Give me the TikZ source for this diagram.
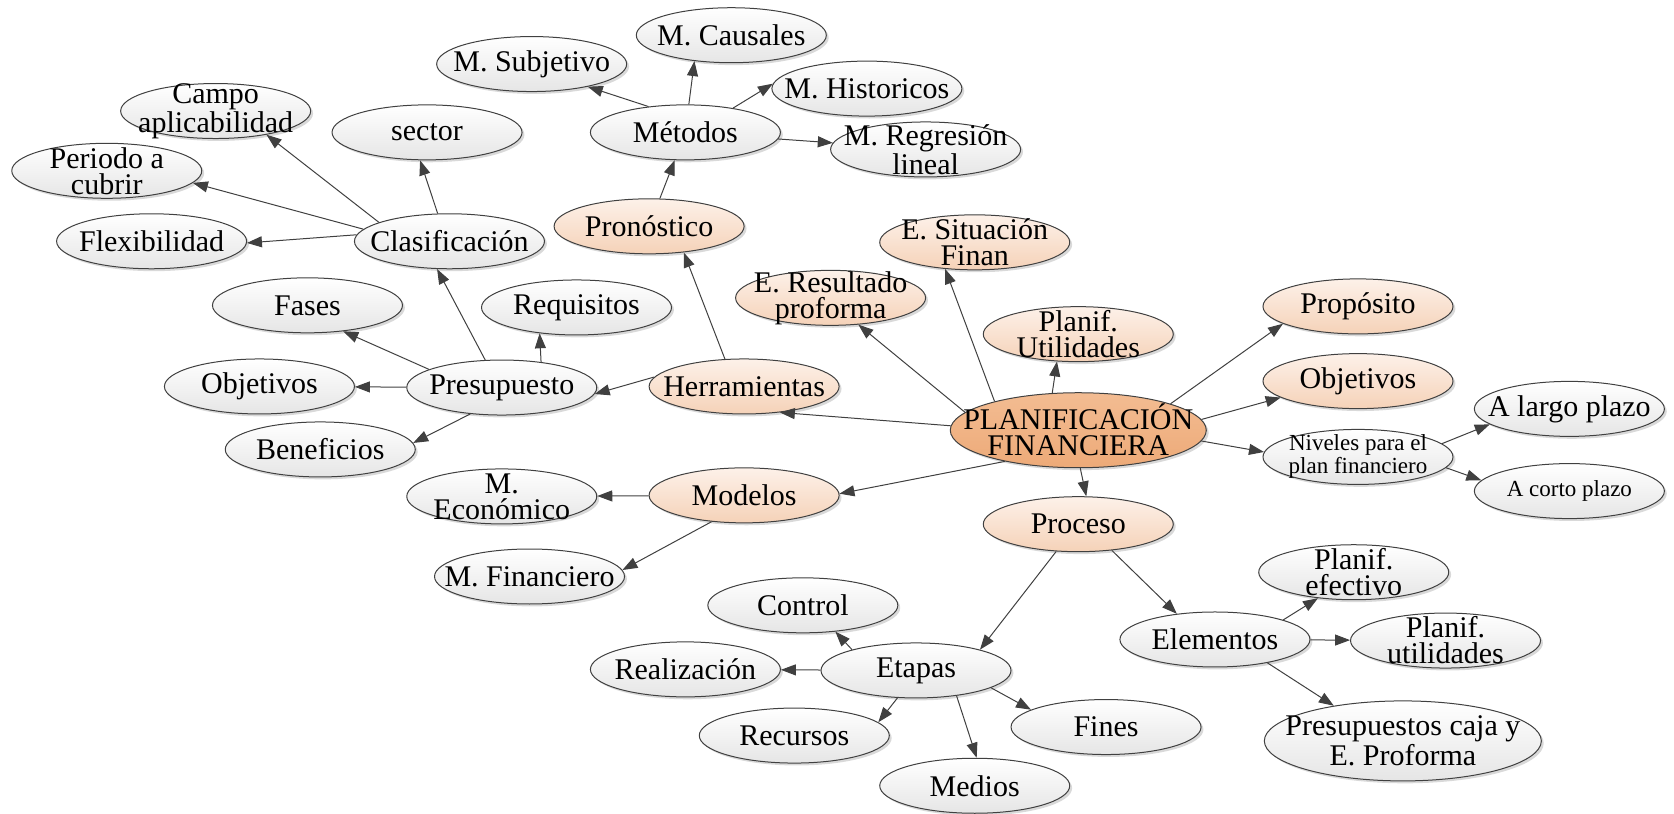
\documentclass[tikz,border=0pt]{standalone}
\usepackage{fontspec}
\setmainfont{Liberation Serif}
\usetikzlibrary{shapes.geometric,arrows.meta,shadows}
\definecolor{linegray}{HTML}{404040}
\definecolor{peachtop}{HTML}{FDF1E9}
\definecolor{peachbot}{HTML}{F5D2B8}
\definecolor{coretop}{HTML}{F3BC92}
\definecolor{corebot}{HTML}{EDAA78}
\tikzset{
  txtfont/.style={font=\fontsize{15}{13}\selectfont, align=center, inner sep=0pt},
  smallfont/.style={font=\fontsize{11.5}{11.5}\selectfont, align=center, inner sep=0pt},
  lab/.style={label={[txtfont]center:#1}},
  slab/.style={label={[smallfont]center:#1}},
  bub/.style={ellipse, draw=linegray, line width=0.5pt, minimum width=95pt, minimum height=27.5pt,
    inner sep=0pt, top color=white, bottom color=black!10,
    drop shadow={shadow xshift=1.2pt, shadow yshift=-1.2pt, fill=black, opacity=0.15}},
  obub/.style={bub, top color=peachtop, bottom color=peachbot},
  core/.style={bub, minimum width=128pt, minimum height=37.5pt, top color=coretop, bottom color=corebot},
  arr/.style={-{Triangle[length=7.5pt,width=5.5pt]}, draw=linegray, line width=0.5pt},
}
\begin{document}
\begin{tikzpicture}[x=0.5338pt, y=-0.5338pt]
\useasboundingbox (0,0) rectangle (1568,762);
% centro
\node[core, lab={PLANIFICACIÓN\\FINANCIERA}] (pf) at (1010,403) {};
% rama derecha
\node[obub, lab=Propósito] (proposito) at (1272,287) {};
\node[obub, lab=Objetivos] (objder) at (1272,357) {};
\node[bub, slab={Niveles para el\\plan financiero}] (niveles) at (1272,428) {};
\node[bub, lab=A largo plazo] (largo) at (1470,383) {};
\node[bub, slab=A corto plazo] (corto) at (1470,460) {};
\node[obub, lab={Planif.\\Utilidades}] (utilid) at (1010,313) {};
\node[obub, lab={E. Situación\\Finan}] (situacion) at (913,227) {};
\node[obub, lab={E. Resultado\\proforma}] (resultado) at (778,279) {};
% herramientas
\node[obub, lab=Herramientas] (herram) at (697,362) {};
\node[bub, lab=Presupuesto] (presup) at (470,363) {};
\node[bub, lab=Requisitos] (requis) at (540,288) {};
\node[bub, lab=Fases] (fases) at (288,286) {};
\node[bub, lab=Objetivos] (objizq) at (243,362) {};
\node[bub, lab=Beneficios] (benef) at (300,421) {};
\node[bub, lab=Clasificación] (clasif) at (421,226) {};
\node[bub, lab=Flexibilidad] (flexib) at (142,226) {};
\node[bub, lab={Periodo a\\cubrir}] (periodo) at (100,160) {};
\node[bub, lab={Campo\\aplicabilidad}] (campo) at (202,104) {};
\node[bub, lab=sector] (sector) at (400,124) {};
\node[obub, lab=Pronóstico] (pronost) at (608,212) {};
\node[bub, lab=Métodos] (metodos) at (642,124) {};
\node[bub, lab=M. Subjetivo] (subjet) at (498,60) {};
\node[bub, lab=M. Causales] (causal) at (685,33) {};
\node[bub, lab=M. Historicos] (histor) at (812,83) {};
\node[bub, lab={M. Regresión\\lineal}] (regres) at (867,140) {};
% modelos
\node[obub, lab=Modelos] (modelos) at (697,464) {};
\node[bub, lab={M.\\Económico}] (econ) at (470,465) {};
\node[bub, lab=M. Financiero] (financ) at (496,540) {};
% proceso
\node[obub, lab=Proceso] (proceso) at (1010,491) {};
\node[bub, lab=Elementos] (elem) at (1138,599) {};
\node[bub, lab={Planif.\\efectivo}] (efect) at (1268,536) {};
\node[bub, lab={Planif.\\utilidades}] (utilplan) at (1354,600) {};
\node[bub, minimum width=138.5pt, minimum height=40pt, lab={Presupuestos caja y\\E. Proforma}] (cajapres) at (1314,694) {};
\node[bub, lab=Etapas] (etapas) at (858,628) {};
\node[bub, lab=Control] (control) at (752,567) {};
\node[bub, lab=Realización] (realiz) at (642,627) {};
\node[bub, lab=Recursos] (recursos) at (744,689) {};
\node[bub, lab=Fines] (fines) at (1036,681) {};
\node[bub, lab=Medios] (medios) at (913,736) {};

% flechas
\draw[arr] (pf.178) -- (herram.-36);
\draw[arr] (pf.-157) -- (modelos.1);
\draw[arr] (pf.171) -- (resultado.-44);
\draw[arr] (pf.161) -- (situacion.-138);
\draw[arr] (pf.125) -- (utilid.-128);
\draw[arr] (pf.16) -- (proposito.-167);
\draw[arr] (pf.5) -- (objder.-168);
\draw[arr] (pf.-5) -- (niveles.177);
\draw[arr] (niveles.9) -- (largo.-169);
\draw[arr] (niveles.-7) -- (corto.173);
\draw[arr] (pf.-87) -- (proceso.74);
\draw[arr] (proceso.-129) -- (etapas.18);
\draw[arr] (proceso.-38) -- (elem.146);
\draw[arr] (elem.16) -- (efect.-144);
\draw[arr] (elem) -- (utilplan);
\draw[arr] (elem.-24) -- (cajapres.153);
\draw[arr] (etapas.162) -- (control.-39);
\draw[arr] (etapas) -- (realiz);
\draw[arr] (etapas.-124) -- (recursos.9);
\draw[arr] (etapas.-13) -- (fines.167);
\draw[arr] (etapas.-32) -- (medios.86);
\draw[arr] (modelos) -- (econ);
\draw[arr] (modelos.-141) -- (financ.4);
\draw[arr] (herram.174) -- (presup.-4);
\draw[arr] (herram.125) -- (pronost.-37);
\draw[arr] (pronost) -- (metodos);
\draw[arr] (metodos.145) -- (subjet.-22);
\draw[arr] (metodos.83) -- (causal.-145);
\draw[arr] (metodos.27) -- (histor.177);
\draw[arr] (metodos) -- (regres);
\draw[arr] (presup.121) -- (clasif.-114);
\draw[arr] (presup.33) -- (requis.-145);
\draw[arr] (presup.166) -- (fases.-36);
\draw[arr] (presup) -- (objizq);
\draw[arr] (presup.-140) -- (benef.4);
\draw[arr] (clasif.113) -- (sector.-104);
\draw[arr] (clasif.165) -- (campo.-25);
\draw[arr] (clasif.172) -- (periodo.-8);
\draw[arr] (clasif.176) -- (flexib.-1);
\end{tikzpicture}
\end{document}
